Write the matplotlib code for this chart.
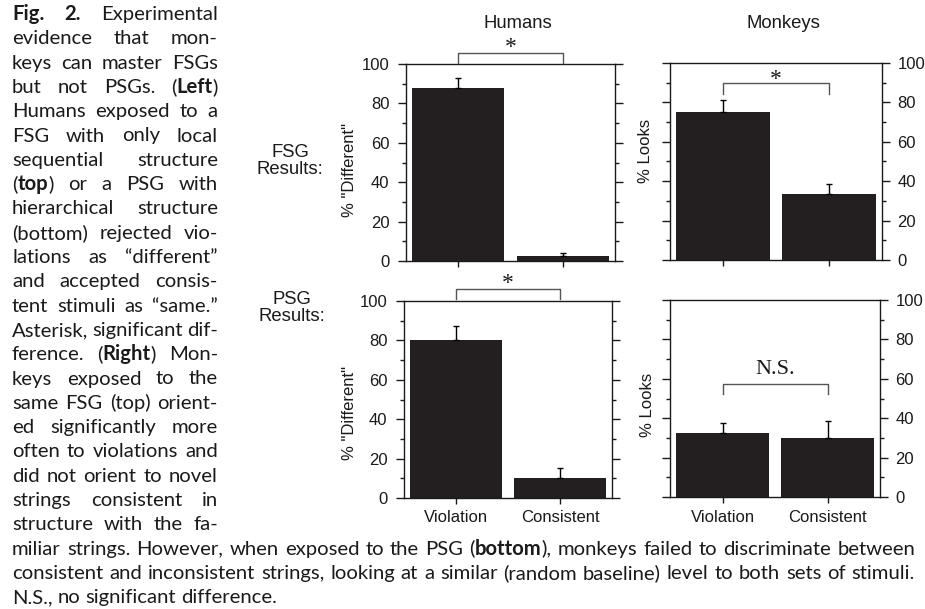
import numpy as np
import matplotlib
matplotlib.use("Agg")
import matplotlib.pyplot as plt
from matplotlib.ticker import MultipleLocator

# ---------------- data ----------------
categories = ["Violation", "Consistent"]
humans_fsg = [87.7, 2.5]
humans_fsg_err = [5.0, 1.5]
monkeys_fsg = [75.0, 33.3]
monkeys_fsg_err = [6.0, 5.4]
humans_psg = [80.4, 10.4]
humans_psg_err = [7.0, 4.8]
monkeys_psg = [32.7, 30.0]
monkeys_psg_err = [5.0, 8.8]
yticks = [0, 20, 40, 60, 80, 100]
col_titles = ["Humans", "Monkeys"]
row_labels = ["FSG\nResults:", "PSG\nResults:"]
ylabels = ['% "Different"', '% Looks']
sig_labels = ["*", "*", "*", "N.S."]

caption_left = [
    "**Fig. 2.** Experimental",
    "evidence that mon-",
    "keys can master FSGs",
    "but not PSGs. (**Left**)",
    "Humans exposed to a",
    "FSG with only local",
    "sequential structure",
    "(**top**) or a PSG with",
    "hierarchical structure",
    "(bottom) rejected vio-",
    "lations as \u201cdifferent\u201d",
    "and accepted consis-",
    "tent stimuli as \u201csame.\u201d",
    "Asterisk, significant dif-",
    "ference. (**Right**) Mon-",
    "keys exposed to the",
    "same FSG (top) orient-",
    "ed significantly more",
    "often to violations and",
    "did not orient to novel",
    "strings consistent in",
    "structure with the fa-",
]
caption_full = [
    "miliar strings. However, when exposed to the PSG (**bottom**), monkeys failed to discriminate between",
    "consistent and inconsistent strings, looking at a similar (random baseline) level to both sets of stimuli.",
]
caption_last = "N.S., no significant difference."

# ---------------- figure ----------------
W, H = 925, 609
fig = plt.figure(figsize=(W / 100, H / 100), dpi=100)
fig.patch.set_facecolor("white")
renderer = fig.canvas.get_renderer()

SANS = ["Liberation Sans", "DejaVu Sans"]
SERIF = ["Liberation Serif", "DejaVu Serif"]
CAP = ["Lato", "DejaVu Sans"]
BAR = "#231f20"
INK = "#1a1a1a"


def px_rect(x0, y0, x1, y1):
    return [x0 / W, 1 - y1 / H, (x1 - x0) / W, (y1 - y0) / H]


def panel(rect, vals, errs, side, show_x, sig, br_top, br_leg, lab_y, lab_size):
    ax = fig.add_axes(rect)
    x = np.arange(len(categories))
    ax.bar(x, vals, width=0.88, color=BAR, zorder=2)
    ax.errorbar(x, vals, yerr=[[0] * len(errs), errs], fmt="none", ecolor="black",
                elinewidth=1.0, capsize=2.5, capthick=1.0, zorder=3)
    ax.set_xlim(-0.5, 1.5)
    ax.set_ylim(0, 100)
    ax.set_yticks(yticks)
    ax.yaxis.set_minor_locator(MultipleLocator(10))
    ax.tick_params(axis="y", which="both", direction="out", left=True, right=True,
                   labelleft=(side == "left"), labelright=(side == "right"),
                   colors=INK, labelsize=12, width=1)
    ax.tick_params(axis="y", which="major", length=6, pad=6.0 if side == "left" else 5)
    ax.tick_params(axis="y", which="minor", length=3)
    ax.set_xticks(x)
    ax.set_xticklabels(categories)
    ax.tick_params(axis="x", direction="out", length=4, width=1, colors=INK,
                   labelsize=12, pad=5, labelbottom=show_x, top=False)
    for lab in ax.get_xticklabels() + ax.get_yticklabels():
        lab.set_family(SANS)
    for s in ax.spines.values():
        s.set_linewidth(1.0)
        s.set_color(INK)
    # significance bracket
    ax.plot([x[0], x[0], x[1], x[1]], [br_leg, br_top, br_top, br_leg],
            color="#555555", lw=1.0, clip_on=False, zorder=4)
    ax.text((x[0] + x[1]) / 2, lab_y, sig, ha="center", va="baseline",
            family=SERIF, fontsize=lab_size, color=INK, clip_on=False)
    return ax


panel(px_rect(406, 64, 615, 261), humans_fsg, humans_fsg_err, "left", False,
      sig_labels[0], 105.7, 100.5, 105.5, 17)
panel(px_rect(670, 63, 882, 260), monkeys_fsg, monkeys_fsg_err, "right", False,
      sig_labels[1], 89.7, 84.3, 88.8, 17)
panel(px_rect(404, 301, 612, 498), humans_psg, humans_psg_err, "left", True,
      sig_labels[2], 106.0, 101.0, 106.0, 17)
panel(px_rect(670, 300, 880, 497), monkeys_psg, monkeys_psg_err, "right", True,
      sig_labels[3], 57.3, 52.2, 62.6, 16)


def ftext(x, y, s, **kw):
    return fig.text(x / W, 1 - y / H, s, **kw)


# column titles and row labels
ftext(518, 23, col_titles[0], ha="center", va="center", family=SANS, fontsize=13.3, color=INK)
ftext(783, 24, col_titles[1], ha="center", va="center", family=SANS, fontsize=13.3, color=INK)
ftext(290, 161, row_labels[0], ha="center", va="center", family=SANS, fontsize=13.3,
      color=INK, linespacing=1.05, multialignment="center")
ftext(292, 308, row_labels[1], ha="center", va="center", family=SANS, fontsize=13.3,
      color=INK, linespacing=1.05, multialignment="center")

# y labels
ftext(350, 170, ylabels[0], ha="center", va="center", rotation=90, family=SANS, fontsize=12, color=INK)
ftext(350, 413, ylabels[0], ha="center", va="center", rotation=90, family=SANS, fontsize=12, color=INK)
ftext(645, 151, ylabels[1], ha="center", va="center", rotation=90, family=SANS, fontsize=12, color=INK)
ftext(648, 405, ylabels[1], ha="center", va="center", rotation=90, family=SANS, fontsize=12, color=INK)


# ---------------- caption (justified) ----------------
def parse(line):
    parts = line.split("**")
    words = [[]]
    for i, p in enumerate(parts):
        bold = (i % 2 == 1)
        chunks = p.split(" ")
        for j, c in enumerate(chunks):
            if j > 0:
                words.append([])
            if c:
                words[-1].append((c, bold))
    return [w for w in words if w]


def tw(s, bold, size):
    t = fig.text(0, 0, s, fontsize=size, family=CAP, fontweight="bold" if bold else "normal")
    w = t.get_window_extent(renderer).width
    t.remove()
    return w


def space_w(size):
    return tw("x x", False, size) - tw("xx", False, size)


def natural(line, size):
    words = parse(line)
    return sum(tw(c, b, size) for w in words for c, b in w) + space_w(size) * (len(words) - 1)


LX0, LX1 = 12, 218
FX0, FX1 = 12, 915
ref = 10.0
size = ref * (FX1 - FX0) * 0.99 / max(natural(l, ref) for l in caption_full)


def draw_line(line, x0, x1, yb, size, justify=True):
    words = parse(line)
    min_gap = 0.55 * space_w(size)
    while True:
        widths = [[tw(c, b, size) for c, b in w] for w in words]
        total = sum(sum(ws) for ws in widths)
        if not justify or len(words) < 2:
            break
        gap = (x1 - x0 - total) / (len(words) - 1)
        if gap >= min_gap:
            break
        size *= 0.98
        min_gap = 0.55 * space_w(size)
    if not justify or len(words) < 2:
        gap = space_w(size)
    x = x0
    for w, ws in zip(words, widths):
        for (c, b), cw in zip(w, ws):
            ftext(x, yb, c, ha="left", va="baseline", family=CAP, fontsize=size,
                  fontweight="bold" if b else "normal", color=INK)
            x += cw
        x += gap


B1, LEAD = 20.0, 24.3
for i, line in enumerate(caption_left):
    draw_line(line, LX0, LX1, B1 + i * LEAD, size)
n = len(caption_left)
for k, line in enumerate(caption_full):
    draw_line(line, FX0, FX1, B1 + (n + k) * LEAD, size)
draw_line(caption_last, FX0, FX1, B1 + (n + 2) * LEAD, size, justify=False)

fig.savefig("out.png", dpi=100, facecolor="white")
